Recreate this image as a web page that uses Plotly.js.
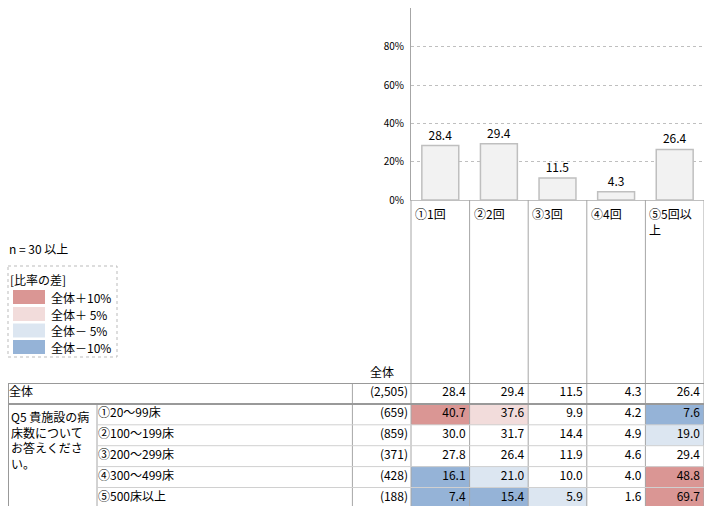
<!DOCTYPE html>
<html><head><meta charset="utf-8">
<script src="https://cdn.plot.ly/plotly-3.0.1.min.js"></script>
<style>html,body{margin:0;padding:0;background:#fff}#c{width:709px;height:506px}</style>
</head><body><div id="c"></div>
<script>
// ---- data ----
const categories = ['①1回','②2回','③3回','④4回','⑤5回以上'];
const headerLabels = ['①1回','②2回','③3回','④4回','⑤5回以<br>上'];
const totalValues = [28.4, 29.4, 11.5, 4.3, 26.4];
const tickValues = [0, 20, 40, 60, 80, 100];
const tickLabels = ['0%', '20%', '40%', '60%', '80%', '100%'];
const rowLabels = ['全体','①20～99床','②100～199床','③200～299床','④300～499床','⑤500床以上'];
const rowN = ['(2,505)','(659)','(859)','(371)','(428)','(188)'];
const rowNnum = [2505, 659, 859, 371, 428, 188];
const row1 = [40.7, 37.6, 9.9, 4.2, 7.6];
const row2 = [30.0, 31.7, 14.4, 4.9, 19.0];
const row3 = [27.8, 26.4, 11.9, 4.6, 29.4];
const row4 = [16.1, 21.0, 10.0, 4.0, 48.8];
const row5 = [7.4, 15.4, 5.9, 1.6, 69.7];
const groupLabel = 'Q5 貴施設の病<br>床数について<br>お答えくださ<br>い。';
const legendTitle = '[比率の差]';
const legendLabels = ['全体＋10%','全体＋ 5%','全体－ 5%','全体－10%'];
const nNote = 'n = 30 以上';

// ---- layout helpers ----
const W = 709, H = 506;
const px = x => x / W;
const py = y => 1 - y / H;
const colL = 411, colR = 704, colW = (colR - colL) / 5;
const ux = p => -0.5 + (p - colL) / colW;
const tableTop = 383, rowH = 20.9;
const yBottom = -0.5 + (H - tableTop) / rowH;
const FONT = '"Noto Sans CJK JP", "Noto Sans", sans-serif';
const colors = {dr: '#da9694', lr: '#f2dcdb', lb: '#dce6f1', db: '#95b3d7'};

const rows = [totalValues, row1, row2, row3, row4, row5];
// classify difference vs total (n >= 30)
const z = rows.map((r, ri) => r.map((v, ci) => {
  if (ri === 0 || rowNnum[ri] < 30) return 0;
  const d = v - totalValues[ci];
  if (d >= 10) return 2;
  if (d >= 5) return 1;
  if (d <= -10) return -2;
  if (d <= -5) return -1;
  return 0;
}));

const traces = [];
traces.push({
  type: 'bar', x: categories, y: totalValues, xaxis: 'x', yaxis: 'y',
  width: 0.63,
  marker: {color: '#f2f2f2', line: {color: '#bfbfbf', width: 1.5}},
  text: totalValues.map(v => v.toFixed(1)), textposition: 'outside',
  textfont: {family: FONT, size: 12, color: '#000'}, cliponaxis: false,
  hoverinfo: 'skip'
});
traces.push({
  type: 'heatmap', x: [0,1,2,3,4], y: [0,1,2,3,4,5], z: z,
  xaxis: 'x2', yaxis: 'y2', zmin: -2, zmax: 2, showscale: false,
  colorscale: [[0, colors.db],[0.125, colors.db],[0.125, colors.lb],[0.375, colors.lb],
    [0.375,'#ffffff'],[0.625,'#ffffff'],[0.625, colors.lr],[0.875, colors.lr],[0.875, colors.dr],[1, colors.dr]],
  hoverinfo: 'skip'
});
const tx = [], ty = [], tt = [];
rows.forEach((r, ri) => r.forEach((v, ci) => { tx.push(ci + 0.5 - 4/colW); ty.push(ri); tt.push(v.toFixed(1)); }));
traces.push({type: 'scatter', mode: 'text', x: tx, y: ty, text: tt, textposition: 'middle left',
  xaxis: 'x2', yaxis: 'y2', textfont: {family: FONT, size: 12, color: '#000'}, hoverinfo: 'skip', cliponaxis: false});
traces.push({type: 'scatter', mode: 'text', x: rowN.map(() => -0.5 - 3/colW), y: rowN.map((_, i) => i), text: rowN,
  textposition: 'middle left', xaxis: 'x2', yaxis: 'y2', textfont: {family: FONT, size: 12, color: '#000'}, hoverinfo: 'skip', cliponaxis: false});
traces.push({type: 'scatter', mode: 'text',
  x: rowLabels.map((_, i) => i === 0 ? ux(9) : ux(98)), y: rowLabels.map((_, i) => i), text: rowLabels,
  textposition: 'middle right', xaxis: 'x2', yaxis: 'y2', textfont: {family: FONT, size: 12, color: '#000'}, hoverinfo: 'skip', cliponaxis: false});

const lineC = '#a6a6a6', lightC = '#d0d0d0';
const shapes = [];
for (let k = 0; k <= 5; k++) {
  shapes.push({type: 'line', xref: 'x2', yref: 'paper', x0: k - 0.5, x1: k - 0.5, y0: py(200), y1: 0, line: {color: lineC, width: 1}});
}
shapes.push({type: 'line', xref: 'x2', yref: 'paper', x0: -1.5, x1: -1.5, y0: py(tableTop), y1: 0, line: {color: lineC, width: 1}});
shapes.push({type: 'line', xref: 'x2', yref: 'paper', x0: ux(97), x1: ux(97), y0: py(tableTop + rowH), y1: 0, line: {color: lineC, width: 1}});
shapes.push({type: 'line', xref: 'x2', yref: 'paper', x0: ux(8), x1: ux(8), y0: py(tableTop), y1: 0, line: {color: '#999', width: 2}});
shapes.push({type: 'line', xref: 'x2', yref: 'y2', x0: ux(8), x1: 4.5, y0: -0.5, y1: -0.5, line: {color: '#999', width: 2}});
shapes.push({type: 'line', xref: 'x2', yref: 'y2', x0: ux(8), x1: 4.5, y0: 0.5, y1: 0.5, line: {color: '#999', width: 2}});
for (let r = 1; r < 5; r++) {
  shapes.push({type: 'line', xref: 'x2', yref: 'y2', x0: ux(97), x1: 4.5, y0: r + 0.5, y1: r + 0.5, line: {color: lightC, width: 1}});
}
shapes.push({type: 'rect', xref: 'paper', yref: 'paper', x0: px(8), x1: px(117), y0: py(266), y1: py(357), line: {color: '#bbb', width: 1, dash: 'dot'}});
const swColors = [colors.dr, colors.lr, colors.lb, colors.db];
const swTop = [290, 307, 323.5, 340];
swColors.forEach((c, i) => shapes.push({type: 'rect', xref: 'paper', yref: 'paper', x0: px(13), x1: px(45), y0: py(swTop[i]), y1: py(swTop[i] + 14), fillcolor: c, line: {width: 0}}));

const annotations = [];
headerLabels.forEach((t, i) => annotations.push({xref: 'x2', yref: 'paper', x: i - 0.5 + 2/colW, y: py(203), text: t,
  xanchor: 'left', yanchor: 'top', align: 'left', showarrow: false, font: {family: FONT, size: 12, color: '#000'}}));
annotations.push({xref: 'x2', yref: 'paper', x: -1, y: py(tableTop - 1), text: '全体', xanchor: 'center', yanchor: 'bottom', showarrow: false, font: {family: FONT, size: 12, color: '#000'}});
annotations.push({xref: 'x2', yref: 'paper', x: ux(9), y: py(tableTop + rowH + 2), text: groupLabel, xanchor: 'left', yanchor: 'top', align: 'left', showarrow: false, font: {family: FONT, size: 12, color: '#000'}});
annotations.push({xref: 'paper', yref: 'paper', x: px(7), y: py(248), text: nNote, xanchor: 'left', yanchor: 'middle', showarrow: false, font: {family: FONT, size: 12, color: '#000'}});
annotations.push({xref: 'paper', yref: 'paper', x: px(8), y: py(279), text: legendTitle, xanchor: 'left', yanchor: 'middle', showarrow: false, font: {family: FONT, size: 12, color: '#000'}});
legendLabels.forEach((t, i) => annotations.push({xref: 'paper', yref: 'paper', x: px(49), y: py(swTop[i] + 7), text: t, xanchor: 'left', yanchor: 'middle', showarrow: false, font: {family: FONT, size: 12, color: '#000'}}));

const layout = {
  width: W, height: H, margin: {l: 0, r: 0, t: 0, b: 0}, paper_bgcolor: '#fff', plot_bgcolor: 'rgba(0,0,0,0)',
  showlegend: false, font: {family: FONT, size: 11, color: '#000'},
  xaxis: {domain: [px(colL), px(colR)], range: [-0.5, 4.5], type: 'category', showticklabels: false, ticks: '',
    showline: true, linecolor: '#bfbfbf', showgrid: false, zeroline: false, fixedrange: true},
  yaxis: {domain: [py(200), py(8.4)], range: [0, 100], tickmode: 'array', tickvals: tickValues, ticktext: tickLabels,
    showgrid: true, gridcolor: '#bfbfbf', griddash: 'dot', showline: true, linecolor: '#a6a6a6', zeroline: false,
    ticks: '', tickfont: {family: FONT, size: 10, color: '#000'}, ticklabelstandoff: 4},
  xaxis2: {domain: [px(8), px(704)], range: [ux(8), 4.5], visible: false, fixedrange: true},
  yaxis2: {domain: [0, py(tableTop)], range: [yBottom, -0.5], visible: false, fixedrange: true},
  shapes: shapes, annotations: annotations
};
Plotly.newPlot('c', traces, layout, {displayModeBar: false, staticPlot: true});
</script></body></html>
